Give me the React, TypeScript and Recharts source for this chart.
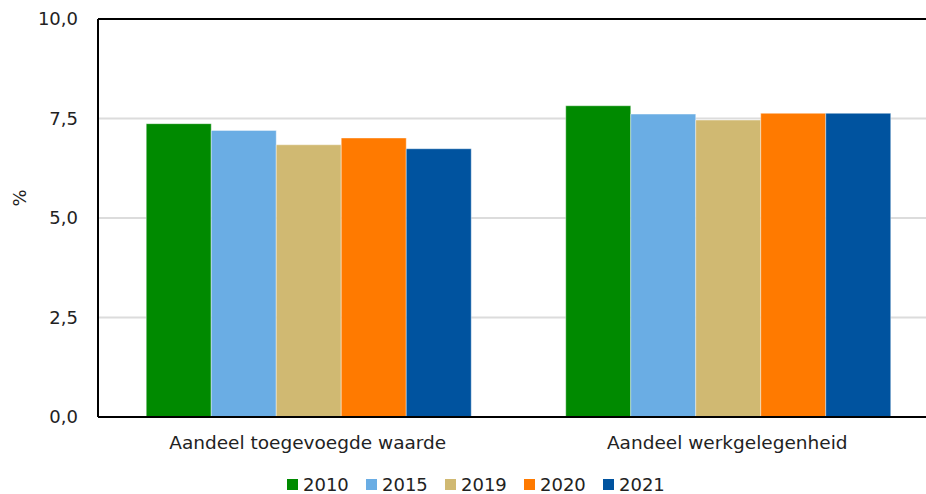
import React from 'react';
import { BarChart, Bar, XAxis, YAxis, CartesianGrid, Legend, ReferenceLine } from 'recharts';

const categories = ['Aandeel toegevoegde waarde', 'Aandeel werkgelegenheid'];
const years = ['2010', '2015', '2019', '2020', '2021'];
const values2010 = [7.37, 7.82];
const values2015 = [7.2, 7.61];
const values2019 = [6.84, 7.46];
const values2020 = [7.01, 7.63];
const values2021 = [6.74, 7.63];
const yTicks = [0, 2.5, 5, 7.5, 10];
const colors = ['#008a00', '#6aade4', '#d0b972', '#ff7a00', '#00539f'];

const seriesValues = [values2010, values2015, values2019, values2020, values2021];
const data = categories.map((c, i) => {
  const row: Record<string, string | number> = { category: c };
  years.forEach((y, j) => {
    row[y] = seriesValues[j][i];
  });
  return row;
});

const FONT = 'DejaVu Sans, Verdana, sans-serif';

const LegendContent = (props: any) => {
  const payload = props.payload || [];
  return (
    <div style={{ position: 'relative', height: 37, width: 937 }}>
      <div style={{ position: 'absolute', left: 287, top: 17, display: 'flex', alignItems: 'center' }}>
        {payload.map((p: any) => (
          <div key={p.value} style={{ display: 'flex', alignItems: 'center', width: 79 }}>
            <div style={{ width: 11, height: 11, background: p.color, marginRight: 5 }} />
            <span style={{ fontFamily: FONT, fontSize: 18, color: '#222', lineHeight: '21px' }}>{p.value}</span>
          </div>
        ))}
      </div>
    </div>
  );
};

export default function App() {
  return (
    <div style={{ position: 'absolute', left: 0, top: 0, width: 926, height: 494, overflow: 'hidden', background: '#fff' }}>
      <BarChart
        width={937}
        height={494}
        data={data}
        margin={{ top: 19, right: 0, bottom: 0, left: 0 }}
        barCategoryGap="11.5%"
        barGap={0}
      >
        <CartesianGrid vertical={false} stroke="#dcdcdc" strokeWidth={2} />
        <XAxis
          dataKey="category"
          axisLine={{ stroke: '#000', strokeWidth: 2 }}
          tickLine={false}
          tickSize={0}
          tickMargin={19}
          height={40}
          tick={{ fill: '#222', fontSize: 18.5, fontFamily: FONT }}
        />
        <YAxis
          domain={[0, 10]}
          ticks={yTicks}
          width={98}
          axisLine={{ stroke: '#000', strokeWidth: 2 }}
          tickLine={false}
          tickSize={0}
          tickMargin={20}
          tickFormatter={(v: number) => v.toFixed(1).replace('.', ',')}
          tick={{ fill: '#222', fontSize: 18, fontFamily: FONT }}
          label={{
            content: () => (
              <text x={19} y={198} transform="rotate(-90 19 198)" textAnchor="middle" dominantBaseline="central" fontSize={18} fontFamily={FONT} fill="#222">%</text>
            ),
          }}
        />
        <ReferenceLine y={10} stroke="#000" strokeWidth={2} />
        {years.map((y, i) => (
          <Bar key={y} dataKey={y} fill={colors[i]} stroke="#ffffff" strokeOpacity={0.4} strokeWidth={1} isAnimationActive={false} />
        ))}
        <Legend verticalAlign="bottom" height={37} content={<LegendContent />} wrapperStyle={{ left: 0, width: 937 }} />
      </BarChart>
    </div>
  );
}
